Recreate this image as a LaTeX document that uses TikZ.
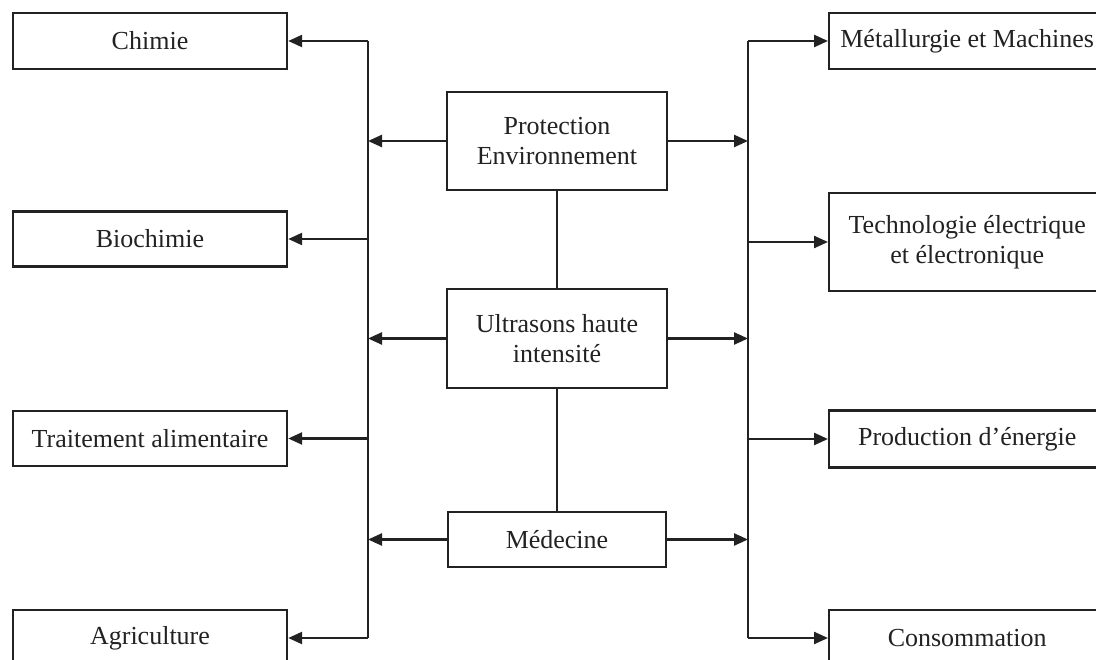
\documentclass[tikz,border=0pt]{standalone}
\usepackage{fontspec}
\setmainfont{Liberation Serif}
\usetikzlibrary{arrows.meta}
\definecolor{ink}{HTML}{222222}
\tikzset{
  box/.style={draw=ink, line width=2.4pt, inner sep=0pt, align=center, text=ink,
    font=\fontsize{26}{30}\selectfont},
  arr/.style={draw=ink, line width=2.4pt, -{Triangle[length=14pt,width=12pt]}},
  ln/.style={draw=ink, line width=2.4pt},
}
\begin{document}
\begin{tikzpicture}[x=1pt,y=-1pt]
\useasboundingbox (0,0) rectangle (1096,660);
\clip (0,0) rectangle (1096,660);
% left boxes
\node[box, minimum width=274pt, minimum height=56pt] (chim) at (150,41) {Chimie};
\node[box, minimum width=274pt, minimum height=55pt] (bio) at (150,239) {Biochimie};
\node[box, minimum width=274pt, minimum height=55pt] (trait) at (150,438.5) {Traitement alimentaire};
\node[box, minimum width=274pt, minimum height=56pt] (agri) at (150,638) {Agriculture};
% right boxes
\node[box, minimum width=276pt, minimum height=56pt, anchor=west] (met) at (828,41) {Métallurgie et Machines};
\node[box, minimum width=276pt, minimum height=98pt, anchor=west] (tech) at (828,242) {Technologie électrique\\et électronique};
\node[box, minimum width=276pt, minimum height=57pt, anchor=west] (prod) at (828,439) {Production d’énergie};
\node[box, minimum width=276pt, minimum height=56pt, anchor=west] (cons) at (828,638) {Consommation};
% central boxes
\node[box, minimum width=220pt, minimum height=98pt] (prot) at (557,141) {Protection\\Environnement};
\node[box, minimum width=220pt, minimum height=99pt] (ultra) at (557,338.5) {Ultrasons haute\\intensité};
\node[box, minimum width=218pt, minimum height=55pt] (med) at (557,539.5) {Médecine};
% bus lines
\coordinate (Lt) at (368,41);
\coordinate (Lb) at (368,638);
\coordinate (Rt) at (748,41);
\coordinate (Rb) at (748,638);
\draw[ln] (Lt) -- (Lb);
\draw[ln] (Rt) -- (Rb);
% left arrows
\foreach \n in {chim,bio,trait,agri}{
  \draw[arr] (\n.east -| Lt) -- (\n.east);
}
% right arrows
\foreach \n in {met,tech,prod,cons}{
  \draw[arr] (\n.west -| Rt) -- (\n.west);
}
% central arrows
\foreach \n in {prot,ultra,med}{
  \draw[arr] (\n.west) -- (\n.west -| Lt);
  \draw[arr] (\n.east) -- (\n.east -| Rt);
}
\draw[ln] (prot.south) -- (ultra.north);
\draw[ln] (ultra.south) -- (med.north);
\end{tikzpicture}
\end{document}
